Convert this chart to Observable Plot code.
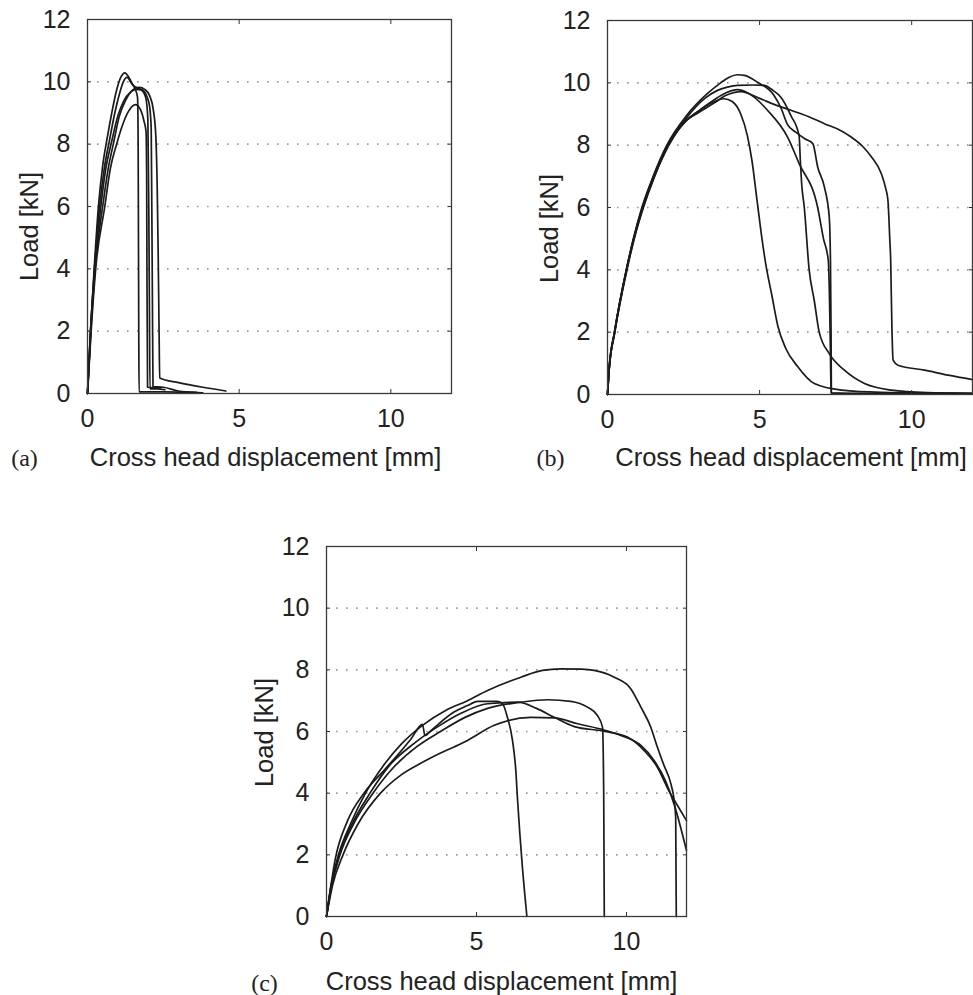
<!DOCTYPE html>
<html><head><meta charset="utf-8">
<script src="https://cdn.jsdelivr.net/npm/d3@7"></script>
<script src="https://cdn.jsdelivr.net/npm/@observablehq/plot@0.6"></script>
<style>
html,body{margin:0;padding:0;background:#fff;}
#wrap{position:relative;width:973px;height:995px;background:#fff;overflow:hidden;}
#wrap svg{position:absolute;}
</style></head><body><div id="wrap"></div>
<script>
// ---------- Panel (a) specimens: [displacement mm, load kN] ----------
const a1 = [[0,0],[0.1,2.0],[0.22,4.0],[0.36,6.0],[0.5,7.3],[0.65,8.2],[0.8,9.0],[0.95,9.7],[1.1,10.15],[1.23,10.29],[1.38,10.12],[1.5,9.9],[1.65,9.8],[1.8,9.72],[1.92,9.5],[1.99,8.8],[2.02,6.0],[2.04,3.0],[2.06,0.15],[2.3,0.15],[2.55,0.12]];
const a2 = [[0,0],[0.1,2.0],[0.23,4.0],[0.4,6.0],[0.55,7.2],[0.72,8.1],[0.9,9.0],[1.05,9.6],[1.18,10.0],[1.3,10.14],[1.45,9.95],[1.58,9.75],[1.65,9.5],[1.67,8.0],[1.68,5.0],[1.69,2.0],[1.70,0.05],[2.5,0.05],[3.8,0.02]];
const a3 = [[0,0],[0.11,2.0],[0.25,4.0],[0.5,6.0],[0.68,7.2],[0.85,8.0],[1.05,8.9],[1.25,9.4],[1.45,9.7],[1.7,9.82],[1.9,9.75],[2.05,9.55],[2.17,9.1],[2.25,8.3],[2.3,6.5],[2.33,4.5],[2.36,2.0],[2.38,0.5],[3.0,0.35],[3.8,0.2],[4.56,0.08]];
const a4 = [[0,0],[0.1,2.0],[0.24,4.0],[0.44,6.0],[0.6,7.2],[0.8,8.1],[1.0,8.9],[1.2,9.4],[1.4,9.65],[1.6,9.76],[1.8,9.74],[1.95,9.55],[2.05,9.2],[2.1,8.5],[2.12,6.0],[2.14,3.0],[2.16,0.22],[2.5,0.2],[3.0,0.08],[3.6,0.04]];
const a5 = [[0,0],[0.12,2.0],[0.27,4.0],[0.57,6.0],[0.75,7.2],[0.96,8.0],[1.15,8.6],[1.35,9.05],[1.58,9.27],[1.75,9.1],[1.86,8.75],[1.93,8.4],[1.95,7.0],[1.96,4.0],[1.98,0.2],[2.4,0.18]];

// ---------- Panel (b) specimens ----------
const b1 = [[0,0],[0.05,0.8],[0.23,2.0],[0.62,4.0],[0.85,5.0],[1.13,6.0],[1.5,7.0],[1.95,8.0],[2.6,8.95],[3.28,9.65],[3.72,10.0],[4.0,10.18],[4.27,10.26],[4.5,10.24],[4.93,10.02],[5.47,9.6],[5.7,9.2],[5.92,8.66],[6.19,8.42],[6.5,8.2],[6.75,8.05],[6.91,7.3],[7.13,6.66],[7.29,5.7],[7.33,4.3],[7.35,2.0],[7.36,0.05],[8.5,0.03],[12,0.02]];
const b2 = [[0,0],[0.05,0.8],[0.23,2.0],[0.62,4.0],[0.86,5.0],[1.15,6.0],[1.52,7.0],[1.98,8.0],[2.6,8.88],[3.2,9.5],[3.6,9.75],[3.94,9.86],[4.27,9.92],[4.8,9.93],[5.15,9.92],[5.45,9.75],[5.7,9.54],[6.03,8.95],[6.3,8.3],[6.34,7.5],[6.38,6.8],[6.47,6.0],[6.63,4.0],[6.8,3.0],[6.96,2.0],[7.29,1.31],[7.79,0.78],[8.45,0.35],[9.33,0.14],[10.5,0.06],[12,0.04]];
const b3 = [[0,0],[0.05,0.75],[0.24,2.0],[0.64,4.0],[0.88,5.0],[1.18,6.0],[1.55,7.0],[2.02,8.0],[2.6,8.8],[3.0,9.1],[3.5,9.45],[3.9,9.68],[4.27,9.78],[4.6,9.68],[4.82,9.54],[5.26,9.12],[5.92,8.26],[6.3,7.41],[6.91,6.0],[7.1,5.0],[7.26,4.3],[7.3,3.0],[7.33,1.3],[7.35,0.04],[9,0.03],[12,0.02]];
const b4 = [[0,0],[0.05,0.75],[0.24,2.0],[0.63,4.0],[0.87,5.0],[1.17,6.0],[1.54,7.0],[2.0,8.0],[2.6,8.8],[3.0,9.05],[3.5,9.35],[3.9,9.6],[4.38,9.72],[5.0,9.5],[5.5,9.3],[6.03,9.12],[6.6,8.92],[7.13,8.69],[7.6,8.5],[8.01,8.26],[8.4,7.95],[8.68,7.62],[9.0,7.09],[9.15,6.6],[9.22,6.23],[9.28,5.0],[9.31,4.31],[9.35,2.17],[9.39,1.1],[9.55,0.94],[10.43,0.78],[11.2,0.62],[12,0.48]];
const b5 = [[0,0],[0.05,0.75],[0.23,2.0],[0.62,4.0],[0.86,5.0],[1.15,6.0],[1.52,7.0],[1.98,8.0],[2.55,8.75],[3.0,9.1],[3.4,9.35],[3.83,9.49],[4.1,9.4],[4.38,9.0],[4.6,8.3],[4.75,7.5],[4.92,6.2],[5.05,5.2],[5.2,4.2],[5.4,3.2],[5.6,2.2],[5.85,1.5],[6.25,0.9],[6.8,0.35],[7.7,0.14],[9,0.07],[12,0.04]];

// ---------- Panel (c) specimens ----------
const c1 = [[0,0],[0.15,1.0],[0.4,2.0],[0.8,3.0],[1.3,4.0],[1.9,4.9],[2.5,5.6],[3.2,6.2],[4.0,6.7],[4.7,7.0],[5.37,7.33],[6.48,7.76],[7.2,7.98],[7.81,8.03],[8.5,8.02],[8.92,7.98],[9.59,7.76],[10.14,7.39],[10.48,6.79],[10.81,6.14],[11.03,5.49],[11.25,4.9],[11.48,4.3],[11.59,3.76],[11.64,3.2],[11.65,1.5],[11.66,0]];
const c2 = [[0,0],[0.3,1.9],[0.7,3.1],[1.25,4.0],[1.92,4.74],[2.59,5.49],[2.81,5.75],[3.2,6.23],[3.28,5.87],[3.48,6.03],[4.25,6.63],[4.7,6.84],[5.03,6.98],[5.7,6.98],[5.87,6.9],[6.03,6.46],[6.2,5.71],[6.31,4.74],[6.37,3.76],[6.53,1.6],[6.68,0]];
const c3 = [[0,0],[0.15,0.9],[0.45,2.0],[0.9,3.0],[1.55,4.0],[2.2,4.8],[3.0,5.5],[3.8,6.0],[4.6,6.45],[5.37,6.75],[6.48,6.95],[7.37,7.03],[8.14,6.98],[8.7,6.79],[9.03,6.52],[9.2,6.14],[9.24,4.0],[9.26,0]];
const c4 = [[0,0],[0.15,0.95],[0.42,2.0],[0.85,3.0],[1.45,4.0],[2.1,4.9],[2.9,5.6],[3.7,6.15],[4.5,6.6],[5.37,6.9],[6.37,6.95],[7.0,6.75],[7.59,6.46],[8.26,6.16],[9.25,6.01],[10.03,5.82],[10.59,5.38],[11.03,4.84],[11.4,4.1],[11.7,3.6],[12,3.11]];
const c5 = [[0,0],[0.2,1.0],[0.55,2.0],[1.05,3.0],[1.8,4.0],[2.5,4.6],[3.2,5.0],[3.8,5.3],[4.48,5.6],[4.7,5.71],[5.59,6.2],[6.81,6.46],[7.59,6.44],[8.37,6.25],[9.25,6.05],[9.81,5.87],[10.48,5.55],[10.92,5.06],[11.3,4.4],[11.6,3.6],[12,2.14]];

// ---------- Axes / labels ----------
const xTicks = [0, 5, 10];
const yTicks = [0, 2, 4, 6, 8, 10, 12];
const gridTicks = [2, 4, 6, 8, 10];
const xLabel = "Cross head displacement [mm]";
const yLabel = "Load [kN]";
const panelLetters = ["(a)", "(b)", "(c)"];

function panel(series, cfg) {
  const data = series.flatMap((s, i) => s.map(([x, y]) => ({x, y, specimen: i + 1})));
  const svg = Plot.plot({
    width: cfg.width, height: cfg.height,
    marginLeft: cfg.ml, marginRight: cfg.mr, marginTop: cfg.mt, marginBottom: cfg.mb,
    x: {domain: [0, 12]},
    y: {domain: [0, 12]},
    style: {fontFamily: "'Liberation Sans', Arial, Helvetica, sans-serif", color: "#222", background: "#fff", overflow: "visible"},
    marks: [
      Plot.gridY(gridTicks, {stroke: "#9a9a9a", strokeOpacity: 1, strokeWidth: 1.6, strokeDasharray: "1.6,8.4"}),
      Plot.line(data, {x: "x", y: "y", z: "specimen", stroke: "#1b1b1b", strokeWidth: 1.7, curve: "monotone-x"}),
      Plot.frame({stroke: "#3a3a3a", strokeWidth: 1.3}),
      Plot.axisX(xTicks, {anchor: "bottom", tickSize: -4, tickPadding: 20, fontSize: 25, label: null, stroke: "#333"}),
      Plot.axisX(xTicks, {anchor: "top", tickSize: -4, tickFormat: () => "", label: null, stroke: "#333"}),
      Plot.axisY(yTicks, {anchor: "left", tickSize: -4, tickPadding: 21, fontSize: 25, label: null, stroke: "#333"}),
      Plot.axisY(yTicks, {anchor: "right", tickSize: -4, tickFormat: () => "", label: null, stroke: "#333"}),
      Plot.text([yLabel], {text: d => d, frameAnchor: "left", textAnchor: "middle", lineAnchor: "middle", dx: cfg.ylDx, dy: cfg.ylDy, rotate: -90, fontSize: 25.5, fill: "#222"}),
      Plot.text([xLabel], {text: d => d, frameAnchor: "bottom", textAnchor: "middle", lineAnchor: "middle", dx: cfg.xlDx, dy: cfg.xlDy, fontSize: 25.5, fill: "#222"}),
      Plot.text([cfg.letter], {text: d => d, frameAnchor: "bottom-left", textAnchor: "middle", lineAnchor: "middle", dx: cfg.letDx, dy: cfg.letDy, fontSize: 24, fill: "#222", fontFamily: "'Liberation Serif', 'Times New Roman', serif"})
    ]
  });
  svg.style.left = cfg.left + "px";
  svg.style.top = cfg.top + "px";
  document.getElementById("wrap").appendChild(svg);
}

panel([a1, a2, a3, a4, a5], {left: 0, top: 0, width: 460, height: 480, ml: 87, mr: 9, mt: 19, mb: 87,
  ylDx: -58, ylDy: 20, xlDx: -4, xlDy: 64, letDx: -63, letDy: 65, letter: panelLetters[0]});
panel([b1, b2, b3, b4, b5], {left: 520, top: 0, width: 453, height: 480, ml: 87, mr: 1, mt: 20, mb: 86,
  ylDx: -58, ylDy: 21, xlDx: 1, xlDy: 63, letDx: -57, letDy: 64, letter: panelLetters[1]});
panel([c1, c2, c3, c4, c5], {left: 240, top: 500, width: 460, height: 495, ml: 86, mr: 14, mt: 46, mb: 79,
  ylDx: -62, ylDy: 1, xlDx: -5, xlDy: 65, letDx: -62, letDy: 67, letter: panelLetters[2]});
</script>
</body></html>
